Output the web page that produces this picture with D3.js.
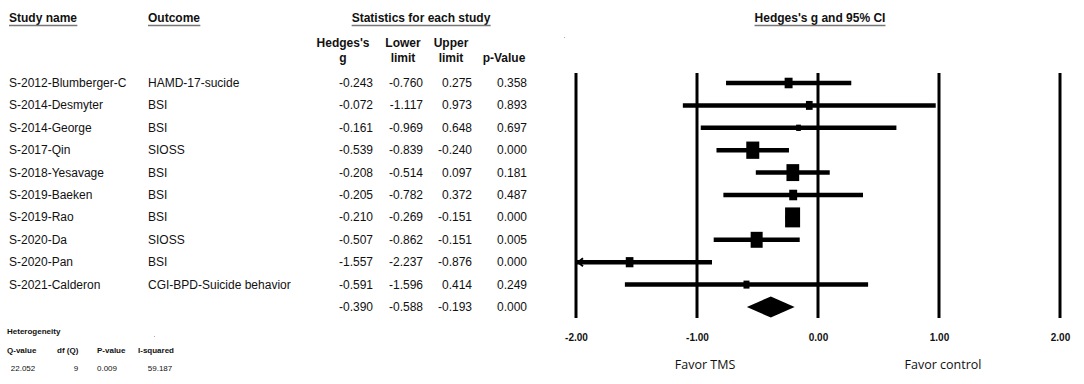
<!DOCTYPE html>
<html><head><meta charset="utf-8">
<script src="https://cdn.jsdelivr.net/npm/d3@7"></script>
<style>
html,body{margin:0;padding:0;background:#fff;}
svg{display:block;font-family:"Liberation Sans",Arial,sans-serif;}
</style></head>
<body>
<svg id="chart" width="1084" height="384"></svg>
<script>
// ---- data ----
const studies = ["S-2012-Blumberger-C","S-2014-Desmyter","S-2014-George","S-2017-Qin","S-2018-Yesavage","S-2019-Baeken","S-2019-Rao","S-2020-Da","S-2020-Pan","S-2021-Calderon"];
const outcomes = ["HAMD-17-sucide","BSI","BSI","SIOSS","BSI","BSI","BSI","SIOSS","BSI","CGI-BPD-Suicide behavior"];
const hedgesG = [-0.243,-0.072,-0.161,-0.539,-0.208,-0.205,-0.210,-0.507,-1.557,-0.591];
const lowerLimit = [-0.760,-1.117,-0.969,-0.839,-0.514,-0.782,-0.269,-0.862,-2.237,-1.596];
const upperLimit = [0.275,0.973,0.648,-0.240,0.097,0.372,-0.151,-0.151,-0.876,0.414];
const pValues = [0.358,0.893,0.697,0.000,0.181,0.487,0.000,0.005,0.000,0.249];
const relWeight = [28,20,10,75,72,28,100,64,26,16];
const summary = {g:-0.390, lower:-0.588, upper:-0.193, p:0.000};
const axisTicks = [-2,-1,0,1,2];
const heteroLabels = ["Q-value","df (Q)","P-value","I-squared"];
const heteroValues = ["22.052","9","0.009","59.187"];

// ---- layout ----
const svg = d3.select("#chart");
const x = d3.scaleLinear().domain([-2,2]).range([576,1060]);
const rowIds = d3.range(studies.length + 1);
const y = d3.scalePoint().domain(rowIds).range([83,307]);
const boxW = d3.scaleSqrt().domain([0,100]).range([0,15]);
const hy = s => s.replace(/\u2212/g,"-");
const f3 = v => hy(d3.format(".3f")(v));
const f2 = v => hy(d3.format(".2f")(v));
const FS = 12;

function headerU(txt, cx, anchor){
  const t = svg.append("text").attr("x",cx).attr("y",22).attr("text-anchor",anchor)
    .attr("font-size",FS).attr("font-weight","bold").attr("fill","#111").text(txt);
  const bb = t.node().getBBox();
  svg.append("line").attr("x1",bb.x).attr("x2",bb.x+bb.width).attr("y1",25.5).attr("y2",25.5)
    .attr("stroke","#777").attr("stroke-width",1.5);
}
headerU("Study name",9,"start");
headerU("Outcome",148,"start");
headerU("Statistics for each study",421,"middle");
headerU("Hedges's g and 95% CI",820,"middle");

// sub headers
const sub = svg.append("g").attr("font-size",FS).attr("font-weight","bold").attr("fill","#111").attr("text-anchor","middle");
sub.append("text").attr("x",343).attr("y",47).text("Hedges's");
sub.append("text").attr("x",343).attr("y",62).text("g");
sub.append("text").attr("x",403).attr("y",47).text("Lower");
sub.append("text").attr("x",403).attr("y",62).text("limit");
sub.append("text").attr("x",451).attr("y",47).text("Upper");
sub.append("text").attr("x",451).attr("y",62).text("limit");
sub.append("text").attr("x",504).attr("y",62).text("p-Value");

// table rows
const tbl = svg.append("g").attr("font-size",FS).attr("fill","#111");
const colRight = [373,423,472,527];
studies.forEach((s,i)=>{
  const yy = y(i)+4;
  tbl.append("text").attr("x",9).attr("y",yy).text(s);
  tbl.append("text").attr("x",148).attr("y",yy).text(outcomes[i]);
  [hedgesG[i],lowerLimit[i],upperLimit[i],pValues[i]].forEach((v,j)=>{
    tbl.append("text").attr("x",colRight[j]).attr("y",yy).attr("text-anchor","end").text(f3(v));
  });
});
const sy = y(studies.length)+4;
[summary.g,summary.lower,summary.upper,summary.p].forEach((v,j)=>{
  tbl.append("text").attr("x",colRight[j]).attr("y",sy).attr("text-anchor","end").text(f3(v));
});

// heterogeneity
const het = svg.append("g").attr("fill","#111");
het.append("text").attr("x",7).attr("y",334).attr("font-size",8).attr("font-weight","bold").text("Heterogeneity");
const hetX = [7,57,97,138];
const hetValX = [23,76,107,160];
heteroLabels.forEach((l,i)=>{
  het.append("text").attr("x",hetX[i]).attr("y",353).attr("font-size",8).attr("font-weight","bold").text(l);
  het.append("text").attr("x",hetValX[i]).attr("y",371).attr("font-size",8).attr("text-anchor","middle").text(heteroValues[i]);
});
svg.append("rect").attr("x",154).attr("y",336).attr("width",1).attr("height",1).attr("fill","#aaa");
svg.append("rect").attr("x",564).attr("y",37).attr("width",1).attr("height",1).attr("fill","#aaa");

// forest: vertical lines
const plot = svg.append("g");
plot.selectAll("line.v").data(axisTicks).join("line").attr("class","v")
  .attr("x1",d=>x(d)).attr("x2",d=>x(d)).attr("y1",73).attr("y2",318)
  .attr("stroke","#000").attr("stroke-width",3);

// axis labels
const axis = d3.axisBottom(x).tickValues(axisTicks).tickFormat(f2).tickSize(0).tickPadding(0);
const ag = svg.append("g").attr("transform","translate(0,334)").call(axis);
ag.select(".domain").remove();
ag.selectAll("text").attr("font-size",10).attr("font-weight","bold").attr("fill","#111")
  .attr("font-family","'Liberation Sans',Arial,sans-serif");

svg.append("text").attr("x",705).attr("y",369).attr("text-anchor","middle").attr("font-size",12.5)
  .attr("font-family","'Open Sans',sans-serif").attr("fill","#111").text("Favor TMS");
svg.append("text").attr("x",943).attr("y",369).attr("text-anchor","middle").attr("font-size",12.5)
  .attr("font-family","'Open Sans',sans-serif").attr("fill","#111").text("Favor control");

// CI lines
const clampL = v => Math.max(v, x.domain()[0]);
studies.forEach((s,i)=>{
  const yy = y(i);
  plot.append("line").attr("x1",x(clampL(lowerLimit[i]))).attr("x2",x(upperLimit[i]))
    .attr("y1",yy).attr("y2",yy).attr("stroke","#000").attr("stroke-width",4.5);
  if(lowerLimit[i] < x.domain()[0]){
    const ax = x(x.domain()[0]);
    plot.append("path").attr("d",`M${ax+7},${yy-4} L${ax+2},${yy} L${ax+7},${yy+4}`)
      .attr("fill","none").attr("stroke","#000").attr("stroke-width",2);
  }
  const w = boxW(relWeight[i]), h = w*1.33;
  plot.append("rect").attr("x",x(hedgesG[i])-w/2).attr("y",yy-h/2).attr("width",w).attr("height",h).attr("fill","#000");
});

// summary diamond
const dy = y(studies.length);
plot.append("path").attr("d",
  `M${x(summary.lower)},${dy} L${x(summary.g)},${dy-10.5} L${x(summary.upper)},${dy} L${x(summary.g)},${dy+10.5} Z`)
  .attr("fill","#000");
</script>
</body></html>
